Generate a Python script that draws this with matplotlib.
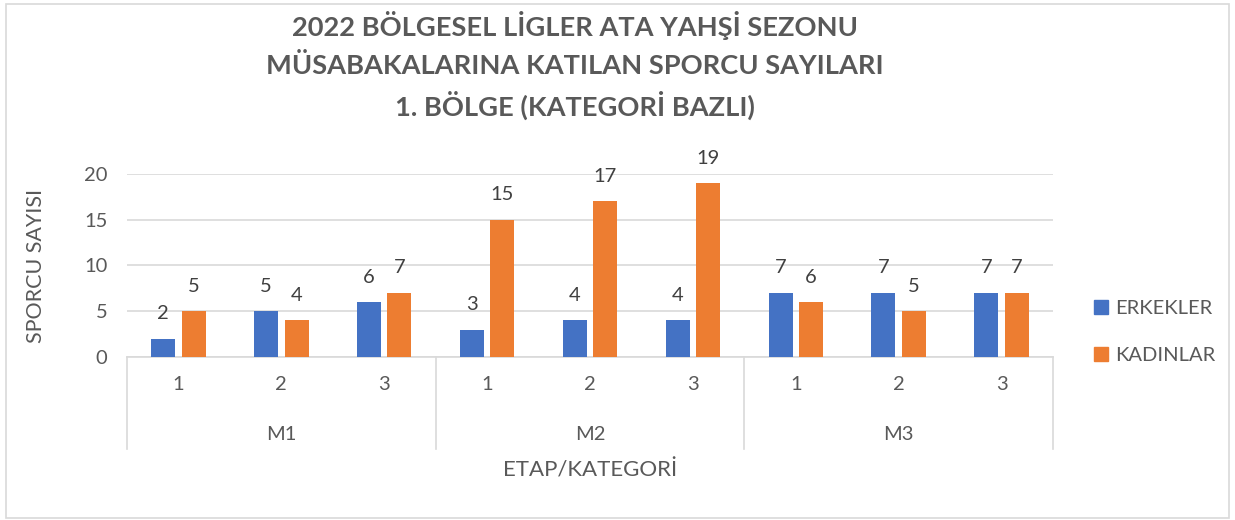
import matplotlib
matplotlib.use("Agg")
import matplotlib.pyplot as plt
from matplotlib.patches import Rectangle, Patch
from matplotlib.transforms import blended_transform_factory

# data
groups = ["M1", "M2", "M3"]
stages = ["1", "2", "3"]
erkekler = [2, 5, 6, 3, 4, 4, 7, 7, 7]
kadinlar = [5, 4, 7, 15, 17, 19, 6, 5, 7]
title_lines = ["2022 BÖLGESEL LİGLER ATA YAHŞİ SEZONU",
               "MÜSABAKALARINA KATILAN SPORCU SAYILARI",
               "1. BÖLGE (KATEGORİ BAZLI)"]

blue = "#4472C4"
orange = "#ED7D31"
grey = "#595959"

plt.rcParams["font.family"] = ["Lato", "DejaVu Sans"]

W, H = 1235, 520
fig = plt.figure(figsize=(W / 100, H / 100), dpi=100)
fig.patches.append(Rectangle((6 / W, 2 / H), 1223 / W, 514 / H, transform=fig.transFigure,
                             fill=False, edgecolor="#D9D9D9", linewidth=1.2))

ax = fig.add_axes([127 / W, (H - 357) / H, 926 / W, 183 / H])

n = len(erkekler)
x = list(range(n))
bw = 0.233
ax.bar([i - 0.148 for i in x], erkekler, bw, color=blue, zorder=3)
ax.bar([i + 0.148 for i in x], kadinlar, bw, color=orange, zorder=3)

for i in x:
    ax.annotate(str(erkekler[i]), (i - 0.148, erkekler[i]), xytext=(0, 18), textcoords="offset points",
                ha="center", va="center", fontsize=14.5, color="#404040")
    ax.annotate(str(kadinlar[i]), (i + 0.148, kadinlar[i]), xytext=(0, 18), textcoords="offset points",
                ha="center", va="center", fontsize=14.5, color="#404040")

ax.set_xlim(-0.5, n - 0.5)
ax.set_ylim(0, 20)
ax.set_yticks([0, 5, 10, 15, 20])
ax.yaxis.grid(True, color="#D9D9D9", linewidth=1.2, zorder=0)
ax.tick_params(axis="y", length=0, labelsize=14.5, labelcolor=grey, pad=14)
ax.set_xticks([])
for s in ["top", "right", "left"]:
    ax.spines[s].set_visible(False)
ax.spines["bottom"].set_color("#D9D9D9")
ax.spines["bottom"].set_linewidth(1.2)

# two level category axis
tr = blended_transform_factory(ax.transData, ax.transAxes)
for b in [-0.5, 2.5, 5.5, 8.5]:
    ax.plot([b, b], [0, -0.503], transform=tr, color="#D9D9D9", lw=1.2, clip_on=False)
for i in x:
    ax.text(i, -0.153, stages[i % 3], transform=tr, ha="center", va="center", fontsize=14.5, color=grey)
for g, name in enumerate(groups):
    ax.text(g * 3 + 1, -0.426, name, transform=tr, ha="center", va="center", fontsize=14.5, color=grey)

fig.text(590 / W, 1 - 470 / H, "ETAP/KATEGORİ", ha="center", va="center", fontsize=16, color=grey)
fig.text(36 / W, 1 - 266 / H, "SPORCU SAYISI", ha="center", va="center", rotation=90, fontsize=15.5, color=grey)

for k, line in enumerate(title_lines):
    fig.text(575 / W, 1 - (25 + 40 * k) / H, line, ha="center", va="center",
             fontsize=19.6, fontweight="bold", color=grey)

handles = [Patch(color=blue), Patch(color=orange)]
fig.legend(handles, ["ERKEKLER", "KADINLAR"], loc="center left", bbox_to_anchor=(1094 / W, 1 - 332 / H),
           frameon=False, fontsize=14.5, labelcolor=grey, handlelength=0.7, handleheight=0.7,
           handletextpad=0.35, labelspacing=1.45, borderpad=0, borderaxespad=0)

fig.savefig("out.png", dpi=100)
